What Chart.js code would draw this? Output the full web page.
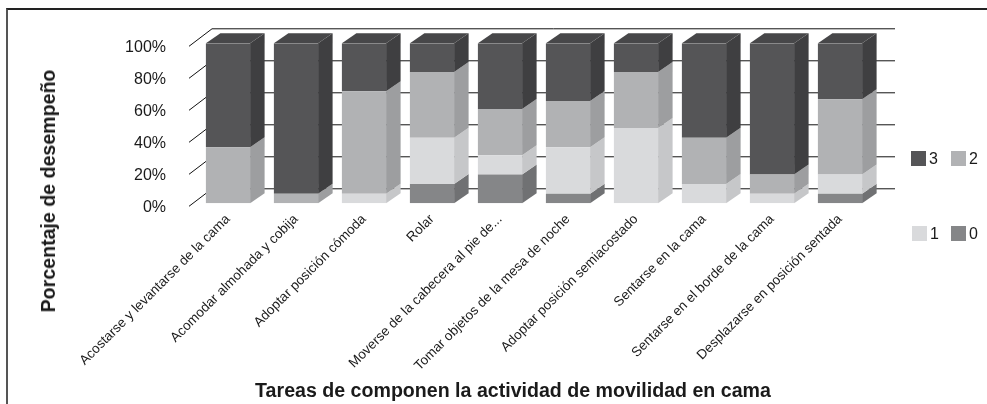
<!DOCTYPE html>
<html>
<head>
<meta charset="utf-8">
<script src="https://cdn.jsdelivr.net/npm/chart.js@4/dist/chart.umd.min.js"></script>
<style>
  html, body { margin: 0; padding: 0; background: #fff; }
  body { width: 987px; height: 404px; position: relative; overflow: hidden; font-family: 'Liberation Sans', Arial, sans-serif; color: #1a1a1a; }
  #frame { position: absolute; left: 6px; top: 8px; width: 1000px; height: 420px; border-top: 2px solid #222; border-left: 2px solid #555; box-sizing: border-box; }
  #wrap { position: absolute; left: 0; top: 0; width: 987px; height: 404px; }
  .title { position: absolute; font-weight: bold; font-size: 19.6px; line-height: 20px; white-space: nowrap; transform: translate(-50%, -50%); }
  #ytitle { left: 48px; top: 191px; transform: translate(-50%, -50%) rotate(-90deg); }
  #xtitle { left: 513px; top: 390px; }
  .lg { position: absolute; font-size: 16px; line-height: 16px; }
  .lg span.sw { position: absolute; width: 15px; height: 15px; }
</style>
</head>
<body>
<div id="frame"></div>
<div id="wrap"><canvas id="chart" width="987" height="404"></canvas></div>
<div class="title" id="ytitle">Porcentaje de desempeño</div>
<div class="title" id="xtitle">Tareas de componen la actividad de movilidad en cama</div>
<div id="legend"></div>
<script>
const categories = [
  'Acostarse y levantarse de la cama',
  'Acomodar almohada y cobija',
  'Adoptar posición cómoda',
  'Rolar',
  'Moverse de la cabecera al pie de...',
  'Tomar objetos de la mesa de noche',
  'Adoptar posición semiacostado',
  'Sentarse en la cama',
  'Sentarse en el borde de la cama',
  'Desplazarse en posición sentada'
];
const seriesNames = ['0', '1', '2', '3'];
const score0 = [0, 0, 0, 12, 18, 6, 0, 0, 0, 6];
const score1 = [0, 0, 6, 29, 12, 29, 47, 12, 6, 12];
const score2 = [35, 6, 64, 41, 29, 29, 35, 29, 12, 47];
const score3 = [65, 94, 30, 18, 41, 36, 18, 59, 82, 35];
const yTicks = [0, 20, 40, 60, 80, 100];

const frontColors = ['#858688', '#d9dadc', '#b1b2b4', '#555557'];
const sideColors = ['#707173', '#c6c7c9', '#9d9ea0', '#3f3f41'];
const topColors = ['#7a7b7d', '#cfd0d2', '#a7a8aa', '#474749'];

// depth of the fake 3D boxes
const DX = 14.5, DY = -10;

const backWall = {
  id: 'backWall',
  beforeDatasetsDraw(chart) {
    const ctx = chart.ctx;
    const y = chart.scales.y;
    const area = chart.chartArea;
    ctx.save();
    ctx.strokeStyle = '#111';
    ctx.lineWidth = 1;
    yTicks.forEach(t => {
      const py = y.getPixelForValue(t);
      ctx.beginPath();
      ctx.moveTo(area.left - 5, py + 3);
      ctx.lineTo(area.left + 18, py - 14.5);
      ctx.lineTo(area.right + 21, py - 14.5);
      ctx.stroke();
    });
    ctx.restore();
  }
};

const boxes3d = {
  id: 'boxes3d',
  afterDatasetsDraw(chart) {
    const ctx = chart.ctx;
    const n = chart.data.labels.length;
    ctx.save();
    for (let i = 0; i < n; i++) {
      let topDs = -1;
      chart.data.datasets.forEach((ds, d) => { if (ds.data[i] > 0) topDs = d; });
      chart.data.datasets.forEach((ds, d) => {
        if (!(ds.data[i] > 0)) return;
        const bar = chart.getDatasetMeta(d).data[i];
        const p = bar.getProps(['x', 'y', 'base', 'width'], true);
        const left = p.x - p.width / 2, right = p.x + p.width / 2;
        const top = Math.min(p.y, p.base), bottom = Math.max(p.y, p.base);
        ctx.fillStyle = sideColors[d];
        ctx.beginPath();
        ctx.moveTo(right, bottom);
        ctx.lineTo(right, top);
        ctx.lineTo(right + DX, top + DY);
        ctx.lineTo(right + DX, bottom + DY);
        ctx.closePath();
        ctx.fill();
        if (d === topDs) {
          ctx.fillStyle = topColors[d];
          ctx.beginPath();
          ctx.moveTo(left, top);
          ctx.lineTo(left + DX, top + DY);
          ctx.lineTo(right + DX, top + DY);
          ctx.lineTo(right, top);
          ctx.closePath();
          ctx.fill();
        }
      });
    }
    ctx.restore();
  }
};

const allScores = [score0, score1, score2, score3];
const datasets = allScores.map((vals, d) => ({
  label: seriesNames[d],
  data: vals,
  backgroundColor: frontColors[d],
  borderWidth: 0,
  barPercentage: 0.65,
  categoryPercentage: 1
}));

const font = 'Liberation Sans, Arial, sans-serif';

new Chart(document.getElementById('chart'), {
  type: 'bar',
  data: { labels: categories, datasets: datasets },
  options: {
    responsive: false,
    animation: false,
    layout: { padding: { top: 43.3, right: 113, left: 0, bottom: 0 } },
    plugins: { legend: { display: false }, tooltip: { enabled: false } },
    scales: {
      x: {
        stacked: true,
        grid: { display: false, drawTicks: false },
        border: { display: false },
        ticks: {
          autoSkip: false, minRotation: 45, maxRotation: 45, padding: 8,
          color: '#1a1a1a', font: { family: font, size: 13.5 }
        },
        afterFit(scale) { scale.height = 200.7; }
      },
      y: {
        stacked: true, min: 0, max: 100,
        grid: { display: false, drawTicks: false },
        border: { display: false },
        ticks: {
          stepSize: 20, padding: 28, labelOffset: 4,
          color: '#1a1a1a', font: { family: font, size: 16 },
          callback: v => v + '%'
        },
        afterFit(scale) { scale.width = 194; }
      }
    }
  },
  plugins: [backWall, boxes3d]
});

// legend: two rows, 3 2 / 1 0
const legendItems = [
  { d: 3, x: 911, y: 151 }, { d: 2, x: 951, y: 151 },
  { d: 1, x: 912, y: 226 }, { d: 0, x: 951, y: 226 }
];
const legend = document.getElementById('legend');
legendItems.forEach(it => {
  const sw = document.createElement('div');
  sw.className = 'lg';
  sw.style.left = it.x + 'px';
  sw.style.top = it.y + 'px';
  sw.innerHTML = '<span class="sw" style="left:0;top:0;background:' + frontColors[it.d] + '"></span>' +
    '<span style="position:absolute;left:18px;top:0">' + seriesNames[it.d] + '</span>';
  legend.appendChild(sw);
});
</script>
</body>
</html>
